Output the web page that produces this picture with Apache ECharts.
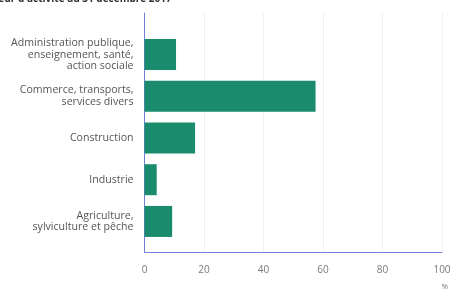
<!DOCTYPE html>
<html><head><meta charset="utf-8">
<script src="https://cdn.jsdelivr.net/npm/echarts@6/dist/echarts.min.js"></script>
<style>html,body{margin:0;padding:0;background:#fff}#c{width:460px;height:294px}</style>
</head><body><div id="c"></div>
<script>
const categories = [
  "Administration publique,\nenseignement, santé,\naction sociale",
  "Commerce, transports,\nservices divers",
  "Construction",
  "Industrie",
  "Agriculture,\nsylviculture et pêche"
];
const values = [10.6, 57.5, 17.0, 4.1, 9.3];
const xTicks = [0, 20, 40, 60, 80, 100];
const unitLabel = "%";
const titleText = "secteur d'activité au 31 décembre 2017";

const chart = echarts.init(document.getElementById('c'), null, {renderer: 'canvas'});
const L = 144.5, R = 18;
chart.setOption({
  animation: false,
  title: {text: titleText, left: -27, top: -11,
    textStyle: {fontFamily: 'Open Sans', fontSize: 10, fontWeight: 'bold', color: '#333'}},
  grid: [
    {left: L, right: R, top: 33.7, height: 208.6},
    {left: L, right: R, top: 13, bottom: 42}
  ],
  xAxis: [
    {gridIndex: 0, type: 'value', min: 0, max: 100, interval: 20, show: false},
    {gridIndex: 1, type: 'value', min: 0, max: 100, interval: 20,
      axisLine: {show: true, lineStyle: {color: '#7a83d6', width: 1}},
      axisTick: {show: false},
      splitLine: {show: true, lineStyle: {color: '#f0f0f0', width: 1}},
      axisLabel: {margin: 13, fontFamily: 'Open Sans', fontSize: 10, color: '#7a7a7a'}}
  ],
  yAxis: [
    {gridIndex: 0, type: 'category', inverse: true, data: categories,
      axisLine: {show: false}, axisTick: {show: false},
      axisLabel: {margin: 11, fontFamily: 'Open Sans', fontSize: 10.6, color: '#555', lineHeight: 11.7, align: 'right'}},
    {gridIndex: 1, type: 'value', min: 0, max: 1,
      axisLine: {show: true, lineStyle: {color: '#6f80dc', width: 1}},
      axisTick: {show: false}, axisLabel: {show: false}, splitLine: {show: false}}
  ],
  graphic: [{type: 'text', right: 12, top: 283,
    style: {text: unitLabel, font: '8px "Open Sans"', fill: '#777'}}],
  series: [{
    type: 'bar', xAxisIndex: 0, yAxisIndex: 0, data: values,
    barWidth: 31, itemStyle: {color: '#1b8b6e'}
  }]
});
</script></body></html>
